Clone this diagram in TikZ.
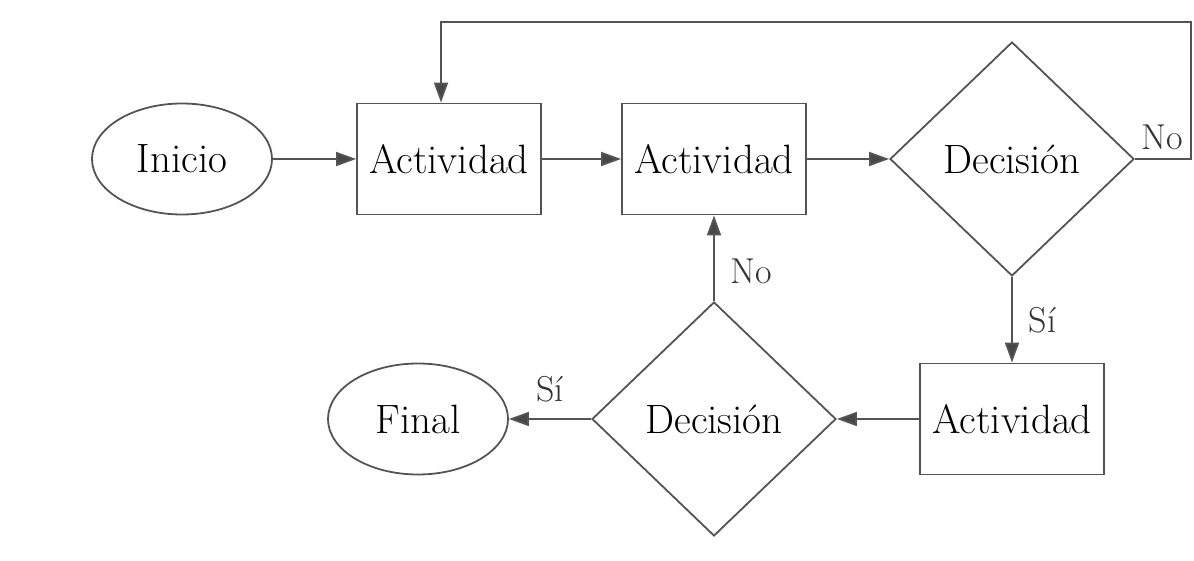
\documentclass[tikz,border=0pt]{standalone}
\usepackage{tikz}
\usetikzlibrary{arrows.meta,positioning,calc,shapes.geometric}
\definecolor{ink}{gray}{0.33}
\definecolor{tipink}{gray}{0.28}
\tikzset{
  act/.style={draw=ink, line width=0.9pt, inner sep=0pt, font=\fontsize{20.5}{24}\selectfont,
              minimum width=92pt, minimum height=55.5pt},
  term/.style={draw=ink, line width=0.9pt, ellipse, inner sep=0pt,
               font=\fontsize{20.5}{24}\selectfont, minimum width=90pt, minimum height=55.5pt},
  dec/.style={draw=ink, line width=0.9pt, diamond, inner sep=0pt,
              font=\fontsize{20.5}{24}\selectfont, minimum width=122pt, minimum height=117pt},
  sig/.style={draw=ink, line width=0.9pt,
              -{Triangle[length=10pt,width=7pt,fill=tipink]}},
  lbl/.style={font=\fontsize{18}{22}\selectfont, inner sep=2pt, text=black!80},
}
\begin{document}
\begin{tikzpicture}[x=0.5pt,y=-0.5pt]
    \useasboundingbox (0,0) rectangle (1194,561);
    \node[term] (ini)  at (182,159)   {Inicio};
    \node[act]  (act1) at (449,159)   {Actividad};
    \node[act]  (act2) at (714,159)   {Actividad};
    \node[dec]  (dec1) at (1012,159)  {Decisión};
    \node[act]  (act3) at (1012,419)  {Actividad};
    \node[dec]  (dec2) at (714,419)   {Decisión};
    \node[term] (fin)  at (418,419)   {Final};
    \coordinate (top) at (1191,22);
    \draw[sig] (ini.east) -- (act1.west);
    \draw[sig] (act1.east) -- (act2.west);
    \draw[sig] (act2.east) -- (dec1.west);
    \draw[sig] (dec1.east) -| (top) -| ($(act1.north)+(-8,0)$);
    \node[lbl] at (1162,137) {No};
    \draw[sig] (dec1.south) -- node[lbl,right,xshift=6pt]{Sí} (act3.north);
    \draw[sig] (act3.west) -- (dec2.east);
    \draw[sig] (dec2.north) -- node[lbl,right,xshift=6pt,pos=0.35]{No} (act2.south);
    \draw[sig] (dec2.west) -- node[lbl,above,yshift=6pt]{Sí} (fin.east);
  \end{tikzpicture}
\end{document}
